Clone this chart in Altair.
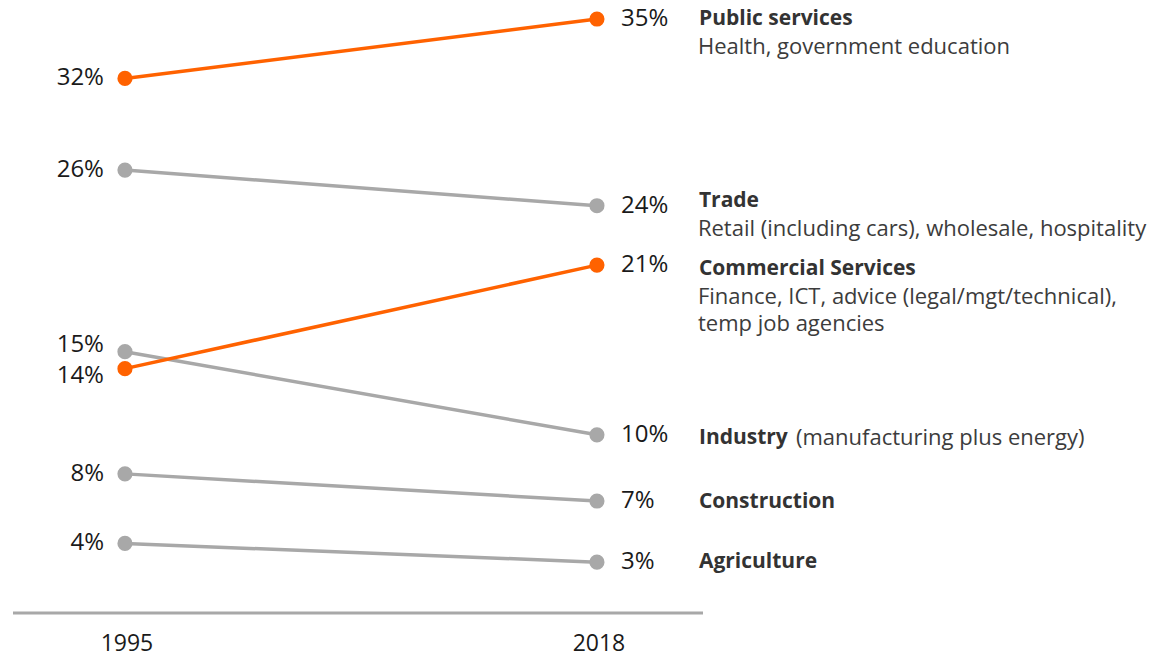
import altair as alt
import pandas as pd

# ---- data ----
categories = ["Public services", "Trade", "Commercial Services", "Industry", "Construction", "Agriculture"]
share_1995 = [31.5, 26.1, 14.4, 15.4, 8.2, 4.1]
share_2018 = [35.0, 24.0, 20.5, 10.5, 6.6, 3.0]
label_1995 = ["32%", "26%", "14%", "15%", "8%", "4%"]
label_2018 = ["35%", "24%", "21%", "10%", "7%", "3%"]
highlight = [True, False, True, False, False, False]
subtitles = [
    "Health, government education",
    "Retail (including cars), wholesale, hospitality",
    "Finance, ICT, advice (legal/mgt/technical),\ntemp job agencies",
    "",
    "",
    "",
]
industry_note = "(manufacturing plus energy)"
years = [1995, 2018]

# ---- styling (not data) ----
ORANGE = "#FF6200"
GREY = "#A8A8A8"
FONT = "Open Sans"
left_nudge = {"Commercial Services": 7, "Industry": -7}
title_nudge = {"Public services": 0, "Trade": -5, "Commercial Services": 4, "Industry": 3,
               "Construction": 1, "Agriculture": 0}

rows = []
for i, c in enumerate(categories):
    for yr, v, lab in ((years[0], share_1995[i], label_1995[i]), (years[1], share_2018[i], label_2018[i])):
        rows.append({"category": c, "year": yr, "share": v, "label": lab,
                     "hl": "yes" if highlight[i] else "no",
                     "subtitle": subtitles[i]})
df = pd.DataFrame(rows)

W, H = 1159, 649
x_scale = alt.Scale(domain=[1989.30, 2045.78], nice=False, zero=False)
y_scale = alt.Scale(domain=[-2.59, 35.65], nice=False, zero=False)

base = alt.Chart(df)
X = alt.X("year:Q", scale=x_scale, axis=None)
Y = alt.Y("share:Q", scale=y_scale, axis=None)

layers = []
for hl, col in (("no", GREY), ("yes", ORANGE)):
    sub = base.transform_filter(alt.datum.hl == hl)
    layers.append(sub.mark_line(color=col, strokeWidth=3.5).encode(x=X, y=Y, detail="category:N"))
    layers.append(sub.mark_circle(color=col, size=230, opacity=1).encode(x=X, y=Y))

# left percentage labels
for c in categories:
    layers.append(
        base.transform_filter((alt.datum.year == years[0]) & (alt.datum.category == c))
        .mark_text(align="right", baseline="middle", dx=-21, dy=left_nudge.get(c, 0),
                   font=FONT, fontSize=24, color="#1a1a1a")
        .encode(x=X, y=Y, text="label:N")
    )

# right percentage labels
layers.append(
    base.transform_filter(alt.datum.year == years[1])
    .mark_text(align="left", baseline="middle", dx=24, font=FONT, fontSize=24, color="#1a1a1a")
    .encode(x=X, y=Y, text="label:N")
)

# category titles and subtitles
for c in categories:
    dy = title_nudge[c]
    sub = base.transform_filter((alt.datum.year == years[1]) & (alt.datum.category == c))
    layers.append(
        sub.mark_text(align="left", baseline="middle", dx=102, dy=dy, font=FONT, fontSize=21,
                      fontWeight="bold", color="#333333")
        .encode(x=X, y=Y, text="category:N")
    )
    layers.append(
        sub.mark_text(align="left", baseline="top", dx=101, dy=dy + 18, font=FONT, fontSize=22,
                      lineBreak="\n", lineHeight=26.5, color="#3c3c3c")
        .encode(x=X, y=Y, text="subtitle:N")
    )

# inline note for Industry
layers.append(
    base.transform_filter((alt.datum.year == years[1]) & (alt.datum.category == "Industry"))
    .transform_calculate(note=f"'{industry_note}'")
    .mark_text(align="left", baseline="middle", dx=199, dy=title_nudge["Industry"], font=FONT,
               fontSize=22, color="#3c3c3c")
    .encode(x=X, y=Y, text="note:N")
)

# baseline rule at 0
layers.append(
    alt.Chart(pd.DataFrame({"v": [0]}))
    .mark_rule(color=GREY, strokeWidth=3)
    .encode(x=alt.value(5), x2=alt.value(695), y=alt.Y("v:Q", scale=y_scale, axis=None))
)

# year labels
layers.append(
    alt.Chart(pd.DataFrame({"year": years}))
    .mark_text(baseline="middle", font=FONT, fontSize=23, color="#1a1a1a", dx=2)
    .encode(x=X, y=alt.value(636), text="year:N")
)

chart = (
    alt.layer(*layers)
    .properties(width=W, height=H, padding=0, autosize=alt.AutoSizeParams(type="none"),
                background="white")
    .configure_view(stroke=None)
)

chart.save("out.html", embed_options={"renderer": "svg", "actions": False})
